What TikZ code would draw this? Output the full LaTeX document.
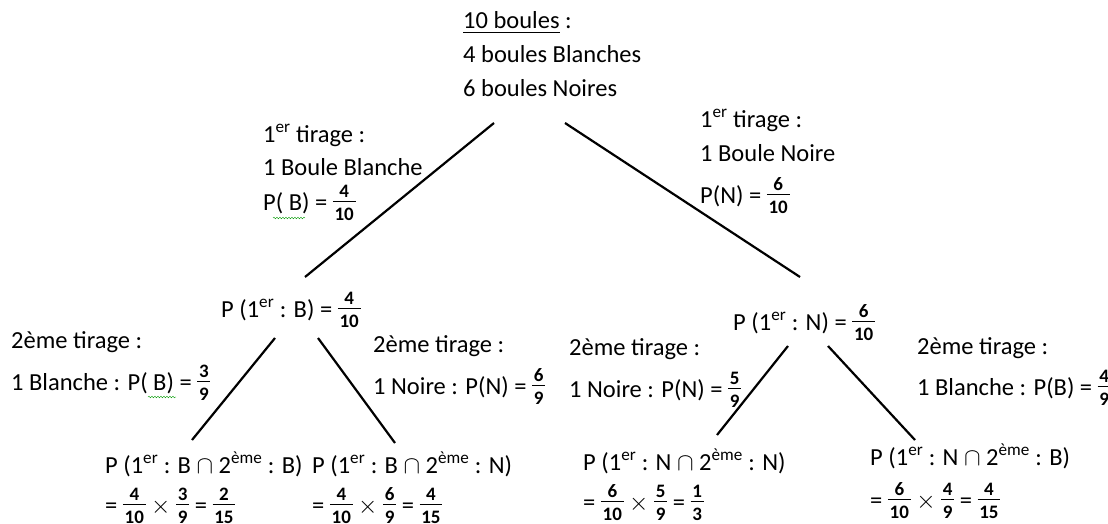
\documentclass[tikz,border=0pt]{standalone}
\usepackage{amsmath}
\usepackage{fontspec}
\setmainfont{Carlito}
\usetikzlibrary{decorations.pathmorphing}
\newsavebox{\frcnum}
\newsavebox{\frcden}
\newlength{\frcw}
\newcommand{\frc}[2]{\mbox{%
  \sbox{\frcnum}{\fontsize{19}{19}\selectfont\bfseries #1}%
  \sbox{\frcden}{\fontsize{19}{19}\selectfont\bfseries #2}%
  \setlength{\frcw}{\wd\frcnum}%
  \ifdim\wd\frcden>\frcw \setlength{\frcw}{\wd\frcden}\fi
  \addtolength{\frcw}{3.5pt}%
  \rlap{\raisebox{13pt}{\makebox[\frcw]{\usebox{\frcnum}}}}%
  \rlap{\raisebox{8.5pt}{\rule{\frcw}{0.9pt}}}%
  \raisebox{-10pt}{\makebox[\frcw]{\usebox{\frcden}}}}}
\newcommand{\er}{\textsuperscript{er}}
\newcommand{\eme}{\textsuperscript{ème}}
\begin{document}
\begin{tikzpicture}[x=1pt, y=-1pt,
    every node/.style={inner sep=0pt, anchor=base west, align=left, font=\fontsize{24.5}{34}\selectfont},
    branch/.style={line width=2.2pt},
    spell/.style={green!60!black, thin, decorate, decoration={snake, amplitude=0.8pt, segment length=3pt}}]
    \useasboundingbox (0,0) rectangle (1108,524);

    % urne (anchor base = last line)
    \node (urne) at (463,97) {\underline{10 boules} :\\ 4 boules Blanches\\ 6 boules Noires};

    % premier tirage
    \node (tirB) at (263,210) {1\er{} tirage :\\[-1pt] 1 Boule Blanche\\[1pt] P( B) = \frc{4}{10}};
    \node (tirN) at (700,203) {1\er{} tirage :\\ 1 Boule Noire\\[8pt] P(N) = \frc{6}{10}};
    \node (pB) at (221,317) {P (1\er{} : B) = \frc{4}{10}};
    \node (pN) at (733,330) {P (1\er{} : N) = \frc{6}{10}};

    % second tirage
    \node (tirBB) at (11,390) {2ème tirage :\\[8pt] 1 Blanche : P( B) = \frc{3}{9}};
    \node (tirBN) at (373,394) {2ème tirage :\\[8pt] 1 Noire : P(N) = \frc{6}{9}};
    \node (tirNN) at (569,397) {2ème tirage :\\[8pt] 1 Noire : P(N) = \frc{5}{9}};
    \node (tirNB) at (917,395) {2ème tirage :\\[7pt] 1 Blanche : P(B) = \frc{4}{9}};

    % feuilles
    \node (pBB) at (105,513) {P (1\er{} : B $\cap$ 2\eme{} : B)\\[6pt] = \frc{4}{10} $\times$ \frc{3}{9} = \frc{2}{15}};
    \node (pBN) at (312,513) {P (1\er{} : B $\cap$ 2\eme{} : N)\\[6pt] = \frc{4}{10} $\times$ \frc{6}{9} = \frc{4}{15}};
    \node (pNN) at (583,510) {P (1\er{} : N $\cap$ 2\eme{} : N)\\[6pt] = \frc{6}{10} $\times$ \frc{5}{9} = \frc{1}{3}};
    \node (pNB) at (870,508) {P (1\er{} : N $\cap$ 2\eme{} : B)\\[9pt] = \frc{6}{10} $\times$ \frc{4}{9} = \frc{4}{15}};

    \coordinate (urneB) at (494,123);
    \coordinate (urneN) at (565,123);
    \coordinate (arrB) at (305,277);
    \coordinate (arrN) at (800,277);
    \coordinate (pBg) at (275,338);
    \coordinate (pBd) at (318,338);
    \coordinate (pNg) at (788,346);
    \coordinate (pNd) at (828,346);
    \coordinate (arrBB) at (192,440);
    \coordinate (arrBN) at (395,443);
    \coordinate (arrNN) at (717,435);
    \coordinate (arrNB) at (915,440);

    \draw[branch] (urneB) -- (arrB);
    \draw[branch] (urneN) -- (arrN);
    \draw[branch] (pBg) -- (arrBB);
    \draw[branch] (pBd) -- (arrBN);
    \draw[branch] (pNg) -- (arrNN);
    \draw[branch] (pNd) -- (arrNB);

    \draw[spell] (273,218) -- (305,218);
    \draw[spell] (148,397) -- (176,397);
\end{tikzpicture}
\end{document}
